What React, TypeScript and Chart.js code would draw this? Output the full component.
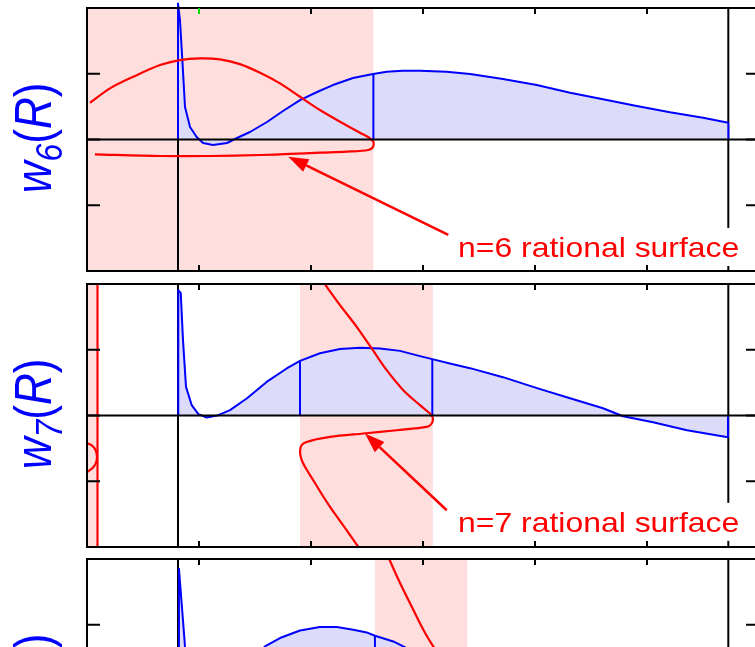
import React, { useEffect, useRef } from 'react';
import { Chart, registerables } from 'chart.js';
Chart.register(...registerables);

// ---------- shared axis data ----------
const X_MIN = 0;
const X_MAX = 6;
const Y_MIN = -2;
const Y_MAX = 2;
const X_TICKS = [1, 2, 3, 4, 5];
const Y_TICKS = [-1, 0, 1];
const AXIS_LINES_X = [0.8125, 5.726];

// ---------- panel 1 : w6(R) ----------
const w6R = [0.8125, 0.8125, 0.83, 0.855, 0.875, 0.92, 0.979, 1.036, 1.125, 1.25, 1.339, 1.455, 1.607, 1.75, 1.902, 2.054, 2.196, 2.375, 2.554, 2.676, 2.82, 2.973, 3.21, 3.42, 3.714, 4.015, 4.313, 4.607, 4.908, 5.205, 5.5, 5.726, 5.726];
const w6V = [0, 2.07, 1.816, 1.1, 0.494, 0.19, 0.038, -0.053, -0.084, -0.053, 0.023, 0.114, 0.266, 0.433, 0.6, 0.722, 0.828, 0.935, 0.995, 1.03, 1.046, 1.046, 1.03, 0.995, 0.92, 0.828, 0.711, 0.611, 0.509, 0.413, 0.331, 0.255, 0];
const q6R = [0.027, 0.205, 0.413, 0.652, 0.83, 1.009, 1.1875, 1.366, 1.545, 1.723, 1.902, 2.08, 2.259, 2.4375, 2.527, 2.556, 2.556, 2.512, 2.319, 2.08, 1.8125, 1.545, 1.098, 0.652, 0.071];
const q6V = [0.559, 0.778, 0.954, 1.132, 1.208, 1.234, 1.219, 1.147, 1.015, 0.854, 0.65, 0.448, 0.27, 0.103, 0.018, -0.033, -0.109, -0.16, -0.185, -0.2, -0.22, -0.236, -0.251, -0.251, -0.225];
const mark6R = [2.557];
const mark6V = [0.995];
const band6 = [[0, 2.557]];

// ---------- panel 2 : w7(R) ----------
const w7R = [0.8125, 0.815, 0.837, 0.857, 0.884, 0.935, 0.994, 1.069, 1.172, 1.277, 1.426, 1.604, 1.783, 1.902, 2.08, 2.259, 2.4375, 2.616, 2.795, 2.973, 3.083, 3.24, 3.42, 3.714, 4.018, 4.313, 4.607, 4.786, 5.054, 5.357, 5.723, 5.723];
const w7V = [0, 1.907, 1.861, 1.15, 0.435, 0.157, 0.02, -0.03, 0.005, 0.081, 0.259, 0.511, 0.715, 0.831, 0.947, 1.012, 1.032, 1.02, 0.983, 0.903, 0.857, 0.791, 0.72, 0.583, 0.416, 0.263, 0.111, -0.011, -0.102, -0.224, -0.33, 0];
const q7R = [2.11, 2.259, 2.408, 2.542, 2.676, 2.824, 2.973, 3.0625, 3.087, 3.078, 3.033, 2.765, 2.467, 2.17, 1.962, 1.908, 1.917, 2.02, 2.17, 2.319, 2.435];
const q7V = [2.03, 1.679, 1.349, 1.02, 0.689, 0.385, 0.157, 0.03, -0.03, -0.122, -0.174, -0.224, -0.274, -0.326, -0.402, -0.478, -0.68, -0.985, -1.391, -1.746, -2.03];
const q7bR = [0.094, 0.094];
const q7bV = [-2.05, 2.05];
const q7cR = [0, 0.04, 0.075, 0.089, 0.08, 0.05, 0];
const q7cV = [-0.42, -0.45, -0.52, -0.62, -0.72, -0.8, -0.86];
const mark7R = [1.902, 3.083];
const mark7V = [0.831, 0.857];
const band7 = [[0, 0.098], [1.902, 3.087]];

// ---------- panel 3 : w8(R) ----------
const w8R = [0.8125, 0.821, 0.875, 0.92, 0.97, 1.05, 1.15, 1.3, 1.45, 1.589, 1.723, 1.902, 2.08, 2.23, 2.378, 2.497, 2.571, 2.735, 2.824, 3.0, 3.3, 3.6, 4.0, 4.5, 5.0, 5.4, 5.726, 5.726];
const w8V = [0, 1.852, 0.67, 0.2, 0.0, -0.06, -0.02, 0.15, 0.42, 0.67, 0.798, 0.913, 0.965, 0.965, 0.924, 0.883, 0.833, 0.746, 0.67, 0.5, 0.2, -0.1, -0.35, -0.55, -0.6, -0.55, -0.5, 0];
const q8R = [2.69, 2.795, 2.913, 3.003, 3.092, 3.25, 3.36, 3.396, 3.38, 3.3, 3.0, 2.7, 2.58, 2.575, 2.65, 2.8, 2.95];
const q8V = [2.03, 1.635, 1.228, 0.924, 0.67, 0.3, 0.05, -0.03, -0.12, -0.17, -0.22, -0.27, -0.35, -0.5, -0.9, -1.5, -2.03];
const mark8R = [2.571];
const mark8V = [0.833];
const band8 = [[2.571, 3.396]];

// ---------- annotations ----------
const note6 = 'n=6 rational surface';
const note7 = 'n=7 rational surface';
const arrow6 = [[3.226, -1.451], [1.797, -0.261]];
const arrow7 = [[3.212, -1.441], [2.482, -0.274]];
const notePos6 = [3.313, -1.786];
const notePos7 = [3.313, -1.77];

const BLUE = '#0000ff';
const FILL = 'rgb(220,220,250)';
const PINK = 'rgb(255,222,222)';
const RED = '#ff0000';
const FONT = '"Liberation Sans", Arial, Helvetica, sans-serif';

const CANVAS_W = 780;
const CANVAS_H = 290;

const pts = (xs: number[], ys: number[]) => xs.map((x, i) => ({ x, y: ys[i] }));

type Panel = {
  top: number;
  sub: string;
  curveR: number[];
  curveV: number[];
  reds: [number[], number[], number][];
  markR: number[];
  markV: number[];
  bands: number[][];
  note?: string;
  notePos?: number[];
  arrow?: number[][];
  greenTick?: boolean;
};

const PANELS: Panel[] = [
  { top: 0, sub: '6', curveR: w6R, curveV: w6V, reds: [[q6R, q6V, 0.3]], markR: mark6R, markV: mark6V, bands: band6, note: note6, notePos: notePos6, arrow: arrow6, greenTick: true },
  { top: 276, sub: '7', curveR: w7R, curveV: w7V, reds: [[q7R, q7V, 0.3], [q7bR, q7bV, 0], [q7cR, q7cV, 0.3]], markR: mark7R, markV: mark7V, bands: band7, note: note7, notePos: notePos7, arrow: arrow7 },
  { top: 551, sub: '8', curveR: w8R, curveV: w8V, reds: [[q8R, q8V, 0.3]], markR: mark8R, markV: mark8V, bands: band8 },
];

function line(ctx: CanvasRenderingContext2D, x0: number, y0: number, x1: number, y1: number) {
  ctx.beginPath();
  ctx.moveTo(x0, y0);
  ctx.lineTo(x1, y1);
  ctx.stroke();
}

function makeOverlay(p: Panel) {
  return {
    id: 'overlay',
    beforeDatasetsDraw(chart: any) {
      const { ctx, chartArea: a } = chart;
      const xs = chart.scales.x;
      ctx.save();
      ctx.fillStyle = PINK;
      for (const [b0, b1] of p.bands) {
        const x0 = xs.getPixelForValue(b0);
        const x1 = xs.getPixelForValue(b1);
        ctx.fillRect(x0, a.top, x1 - x0, a.bottom - a.top);
      }
      ctx.strokeStyle = '#000';
      ctx.lineWidth = 2;
      for (const v of AXIS_LINES_X) {
        const px = xs.getPixelForValue(v);
        line(ctx, px, a.top, px, a.bottom);
      }
      ctx.restore();
    },
    afterDatasetsDraw(chart: any) {
      const { ctx, chartArea: a } = chart;
      const xs = chart.scales.x;
      const ys = chart.scales.y;
      ctx.save();
      // zero line
      ctx.strokeStyle = '#000';
      ctx.lineWidth = 2;
      const y0 = ys.getPixelForValue(0);
      line(ctx, a.left, y0, a.right, y0);

      // note with white box + arrow
      if (p.note && p.notePos && p.arrow) {
        const sx = 1.14;
        ctx.font = `28px ${FONT}`;
        const w = ctx.measureText(p.note).width * sx;
        const tx = xs.getPixelForValue(p.notePos[0]);
        const ty = ys.getPixelForValue(p.notePos[1]);
        ctx.fillStyle = '#fff';
        ctx.fillRect(tx - 8, ty - 29, w + 16, 38);
        ctx.save();
        ctx.translate(tx, ty);
        ctx.scale(sx, 1);
        ctx.fillStyle = RED;
        ctx.textBaseline = 'alphabetic';
        ctx.fillText(p.note, 0, 0);
        ctx.restore();

        const ax0 = xs.getPixelForValue(p.arrow[0][0]);
        const ay0 = ys.getPixelForValue(p.arrow[0][1]);
        const ax1 = xs.getPixelForValue(p.arrow[1][0]);
        const ay1 = ys.getPixelForValue(p.arrow[1][1]);
        const ang = Math.atan2(ay1 - ay0, ax1 - ax0);
        const hl = 20, hw = 7;
        const bx = ax1 - hl * Math.cos(ang);
        const by = ay1 - hl * Math.sin(ang);
        ctx.strokeStyle = RED;
        ctx.fillStyle = RED;
        ctx.lineWidth = 2.5;
        line(ctx, ax0, ay0, bx, by);
        ctx.beginPath();
        ctx.moveTo(ax1, ay1);
        ctx.lineTo(bx + hw * Math.sin(ang), by - hw * Math.cos(ang));
        ctx.lineTo(bx - hw * Math.sin(ang), by + hw * Math.cos(ang));
        ctx.closePath();
        ctx.fill();
      }

      // frame
      ctx.strokeStyle = '#000';
      ctx.lineWidth = 2;
      ctx.strokeRect(a.left, a.top, a.right - a.left, a.bottom - a.top);
      // ticks
      for (const t of X_TICKS) {
        const px = xs.getPixelForValue(t);
        ctx.strokeStyle = p.greenTick && t === 1 ? '#00e000' : '#000';
        line(ctx, px, a.top, px, a.top + 6);
        ctx.strokeStyle = '#000';
        line(ctx, px, a.bottom, px, a.bottom - 6);
      }
      for (const t of Y_TICKS) {
        const py = ys.getPixelForValue(t);
        line(ctx, a.left, py, a.left + 13, py);
        line(ctx, a.right, py, a.right - 13, py);
      }

      // rotated y label
      const F = 44;
      const s = 1.18;
      const parts = [
        { t: 'w', f: `italic ${F}px ${FONT}`, dy: 0 },
        { t: p.sub, f: `italic ${Math.round(F * 0.72)}px ${FONT}`, dy: F * 0.22 },
        { t: '(', f: `${F}px ${FONT}`, dy: 0 },
        { t: 'R', f: `italic ${F}px ${FONT}`, dy: 0 },
        { t: ')', f: `${F}px ${FONT}`, dy: 0 },
      ];
      let total = 0;
      const widths = parts.map((q) => {
        ctx.font = q.f;
        const w = ctx.measureText(q.t).width;
        total += w;
        return w;
      });
      const cy = y0 - 1.5;
      ctx.translate(51, cy + total / 2);
      ctx.rotate(-Math.PI / 2);
      ctx.scale(1, s);
      ctx.fillStyle = BLUE;
      ctx.textBaseline = 'alphabetic';
      let cx = 0;
      parts.forEach((q, i) => {
        ctx.font = q.f;
        ctx.fillText(q.t, cx, q.dy);
        cx += widths[i];
      });
      ctx.restore();
    },
  };
}

function PanelChart({ p }: { p: Panel }) {
  const ref = useRef<HTMLCanvasElement>(null);
  useEffect(() => {
    if (!ref.current) return;
    const datasets: any[] = [];
    p.reds.forEach(([xs, ys, tension]) => {
      datasets.push({
        data: pts(xs, ys),
        showLine: true,
        borderColor: RED,
        borderWidth: 2.2,
        pointRadius: 0,
        fill: false,
        tension,
        clip: 0,
      });
    });
    p.markR.forEach((r, i) => {
      datasets.push({
        data: pts([r, r], [0, p.markV[i]]),
        showLine: true,
        borderColor: BLUE,
        borderWidth: 2,
        pointRadius: 0,
        fill: false,
        clip: 0,
      });
    });
    datasets.push({
      data: pts(p.curveR, p.curveV),
      showLine: true,
      borderColor: BLUE,
      borderWidth: 2,
      backgroundColor: FILL,
      pointRadius: 0,
      fill: 'origin',
      tension: 0,
      borderJoinStyle: 'round',
      clip: { left: 0, top: 8, right: 0, bottom: 0 },
    });
    const chart = new Chart(ref.current, {
      type: 'scatter',
      data: { datasets },
      options: {
        animation: false,
        responsive: false,
        devicePixelRatio: 1,
        layout: { padding: { left: 87, right: 21, top: 8, bottom: 19 } },
        scales: {
          x: { type: 'linear', min: X_MIN, max: X_MAX, display: false },
          y: { type: 'linear', min: Y_MIN, max: Y_MAX, display: false },
        },
        plugins: { legend: { display: false }, tooltip: { enabled: false } },
        events: [],
      },
      plugins: [makeOverlay(p)],
    } as any);
    return () => chart.destroy();
  }, [p]);
  return (
    <canvas
      ref={ref}
      width={CANVAS_W}
      height={CANVAS_H}
      style={{ position: 'absolute', left: 0, top: p.top, width: CANVAS_W, height: CANVAS_H, display: 'block' }}
    />
  );
}

export default function App() {
  return (
    <div style={{ position: 'fixed', left: 0, top: 0, width: 755, height: 647, overflow: 'hidden', background: '#fff' }}>
      {PANELS.map((p, i) => (
        <PanelChart key={i} p={p} />
      ))}
    </div>
  );
}
